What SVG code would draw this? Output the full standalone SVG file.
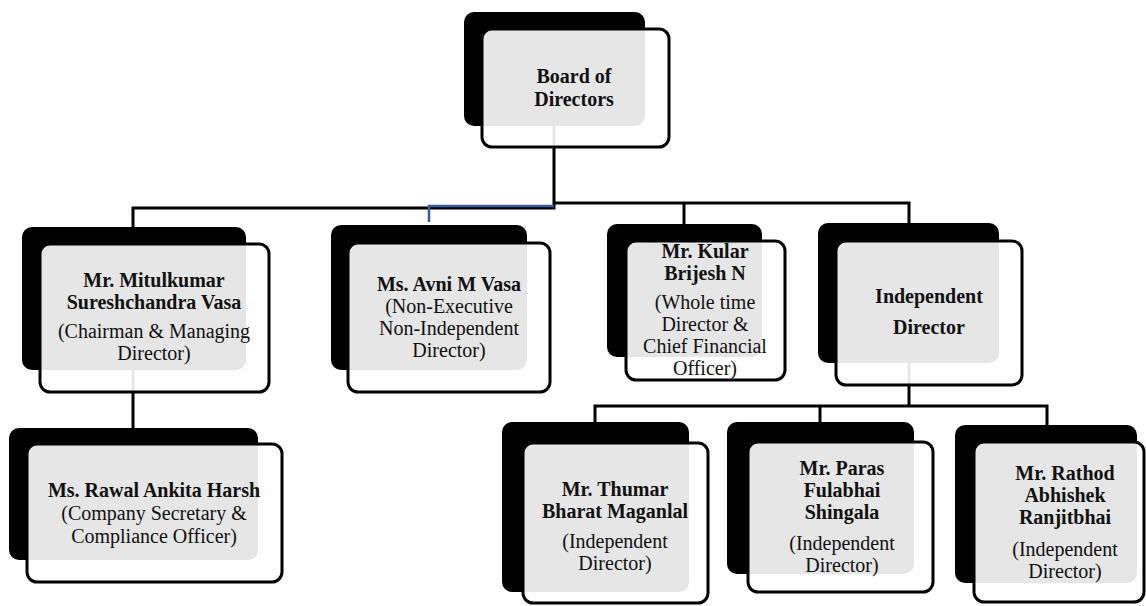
<svg xmlns="http://www.w3.org/2000/svg" width="1146" height="606" viewBox="0 0 1146 606">
<style>
.back{fill:#000}
.front{fill:#fff;fill-opacity:0.9;stroke:#000;stroke-width:3}
.conn{fill:none;stroke:#000;stroke-width:3}
.blue{fill:none;stroke:#3a5a9c;stroke-width:2.5}
text{font-family:"Liberation Serif","Times New Roman",serif;font-size:20px;text-anchor:middle;fill:#111}
.b{font-weight:bold}
</style>
<rect width="1146" height="606" fill="#fff"/>
<g id="connectors">
<path class="conn" d="M554,126 V208 H133 V228"/>
<path class="conn" d="M554,203 H909 V223"/>
<path class="conn" d="M684,203 V224"/>
<path class="blue" d="M554,206 H429 V222"/>
<path class="conn" d="M133,370 V428"/>
<path class="conn" d="M909,363 V406"/>
<path class="conn" d="M595,422 V406 H1047 V425"/>
<path class="conn" d="M820,406 V422"/>
</g>
<g id="board">
<rect class="back" x="464" y="12" width="181" height="114" rx="10"/>
<rect class="front" x="482" y="29" width="187" height="118" rx="10"/>
<text class="b" x="574" y="83">Board of</text>
<text class="b" x="574" y="106">Directors</text>
</g>
<g id="mitul">
<rect class="back" x="22" y="227" width="224" height="143" rx="10"/>
<rect class="front" x="40" y="244" width="229" height="148" rx="10"/>
<text class="b" x="154" y="287">Mr. Mitulkumar</text>
<text class="b" x="154" y="309">Sureshchandra Vasa</text>
<text x="154" y="338">(Chairman &amp; Managing</text>
<text x="154" y="360">Director)</text>
</g>
<g id="avni">
<rect class="back" x="331" y="225" width="196" height="145" rx="10"/>
<rect class="front" x="348" y="243" width="202" height="149" rx="10"/>
<text class="b" x="449" y="291">Ms. Avni M Vasa</text>
<text x="449" y="313">(Non-Executive</text>
<text x="449" y="335">Non-Independent</text>
<text x="449" y="357">Director)</text>
</g>
<g id="kular">
<rect class="back" x="607" y="224" width="155" height="133" rx="10"/>
<rect class="front" x="626" y="241" width="159" height="139" rx="10"/>
<text class="b" x="705" y="258">Mr. Kular</text>
<text class="b" x="705" y="280">Brijesh N</text>
<text x="705" y="309">(Whole time</text>
<text x="705" y="331">Director &amp;</text>
<text x="705" y="353">Chief Financial</text>
<text x="705" y="375">Officer)</text>
</g>
<g id="independent">
<rect class="back" x="818" y="223" width="181" height="140" rx="10"/>
<rect class="front" x="836" y="241" width="186" height="144" rx="10"/>
<text class="b" x="929" y="303">Independent</text>
<text class="b" x="929" y="334">Director</text>
</g>
<g id="rawal">
<rect class="back" x="9" y="428" width="249" height="132" rx="10"/>
<rect class="front" x="27" y="444" width="255" height="138" rx="10"/>
<text class="b" x="154" y="497">Ms. Rawal Ankita Harsh</text>
<text x="154" y="520">(Company Secretary &amp;</text>
<text x="154" y="543">Compliance Officer)</text>
</g>
<g id="thumar">
<rect class="back" x="502" y="422" width="187" height="170" rx="10"/>
<rect class="front" x="523" y="443" width="185" height="160" rx="10"/>
<text class="b" x="615" y="496">Mr. Thumar</text>
<text class="b" x="615" y="518">Bharat Maganlal</text>
<text x="615" y="548">(Independent</text>
<text x="615" y="570">Director)</text>
</g>
<g id="paras">
<rect class="back" x="727" y="422" width="187" height="152" rx="10"/>
<rect class="front" x="748" y="442" width="185" height="150" rx="10"/>
<text class="b" x="842" y="475">Mr. Paras</text>
<text class="b" x="842" y="497">Fulabhai</text>
<text class="b" x="842" y="519">Shingala</text>
<text x="842" y="550">(Independent</text>
<text x="842" y="572">Director)</text>
</g>
<g id="rathod">
<rect class="back" x="955" y="425" width="182" height="158" rx="10"/>
<rect class="front" x="974" y="442" width="170" height="160" rx="10"/>
<text class="b" x="1065" y="480">Mr. Rathod</text>
<text class="b" x="1065" y="502">Abhishek</text>
<text class="b" x="1065" y="524">Ranjitbhai</text>
<text x="1065" y="556">(Independent</text>
<text x="1065" y="578">Director)</text>
</g>
</svg>
